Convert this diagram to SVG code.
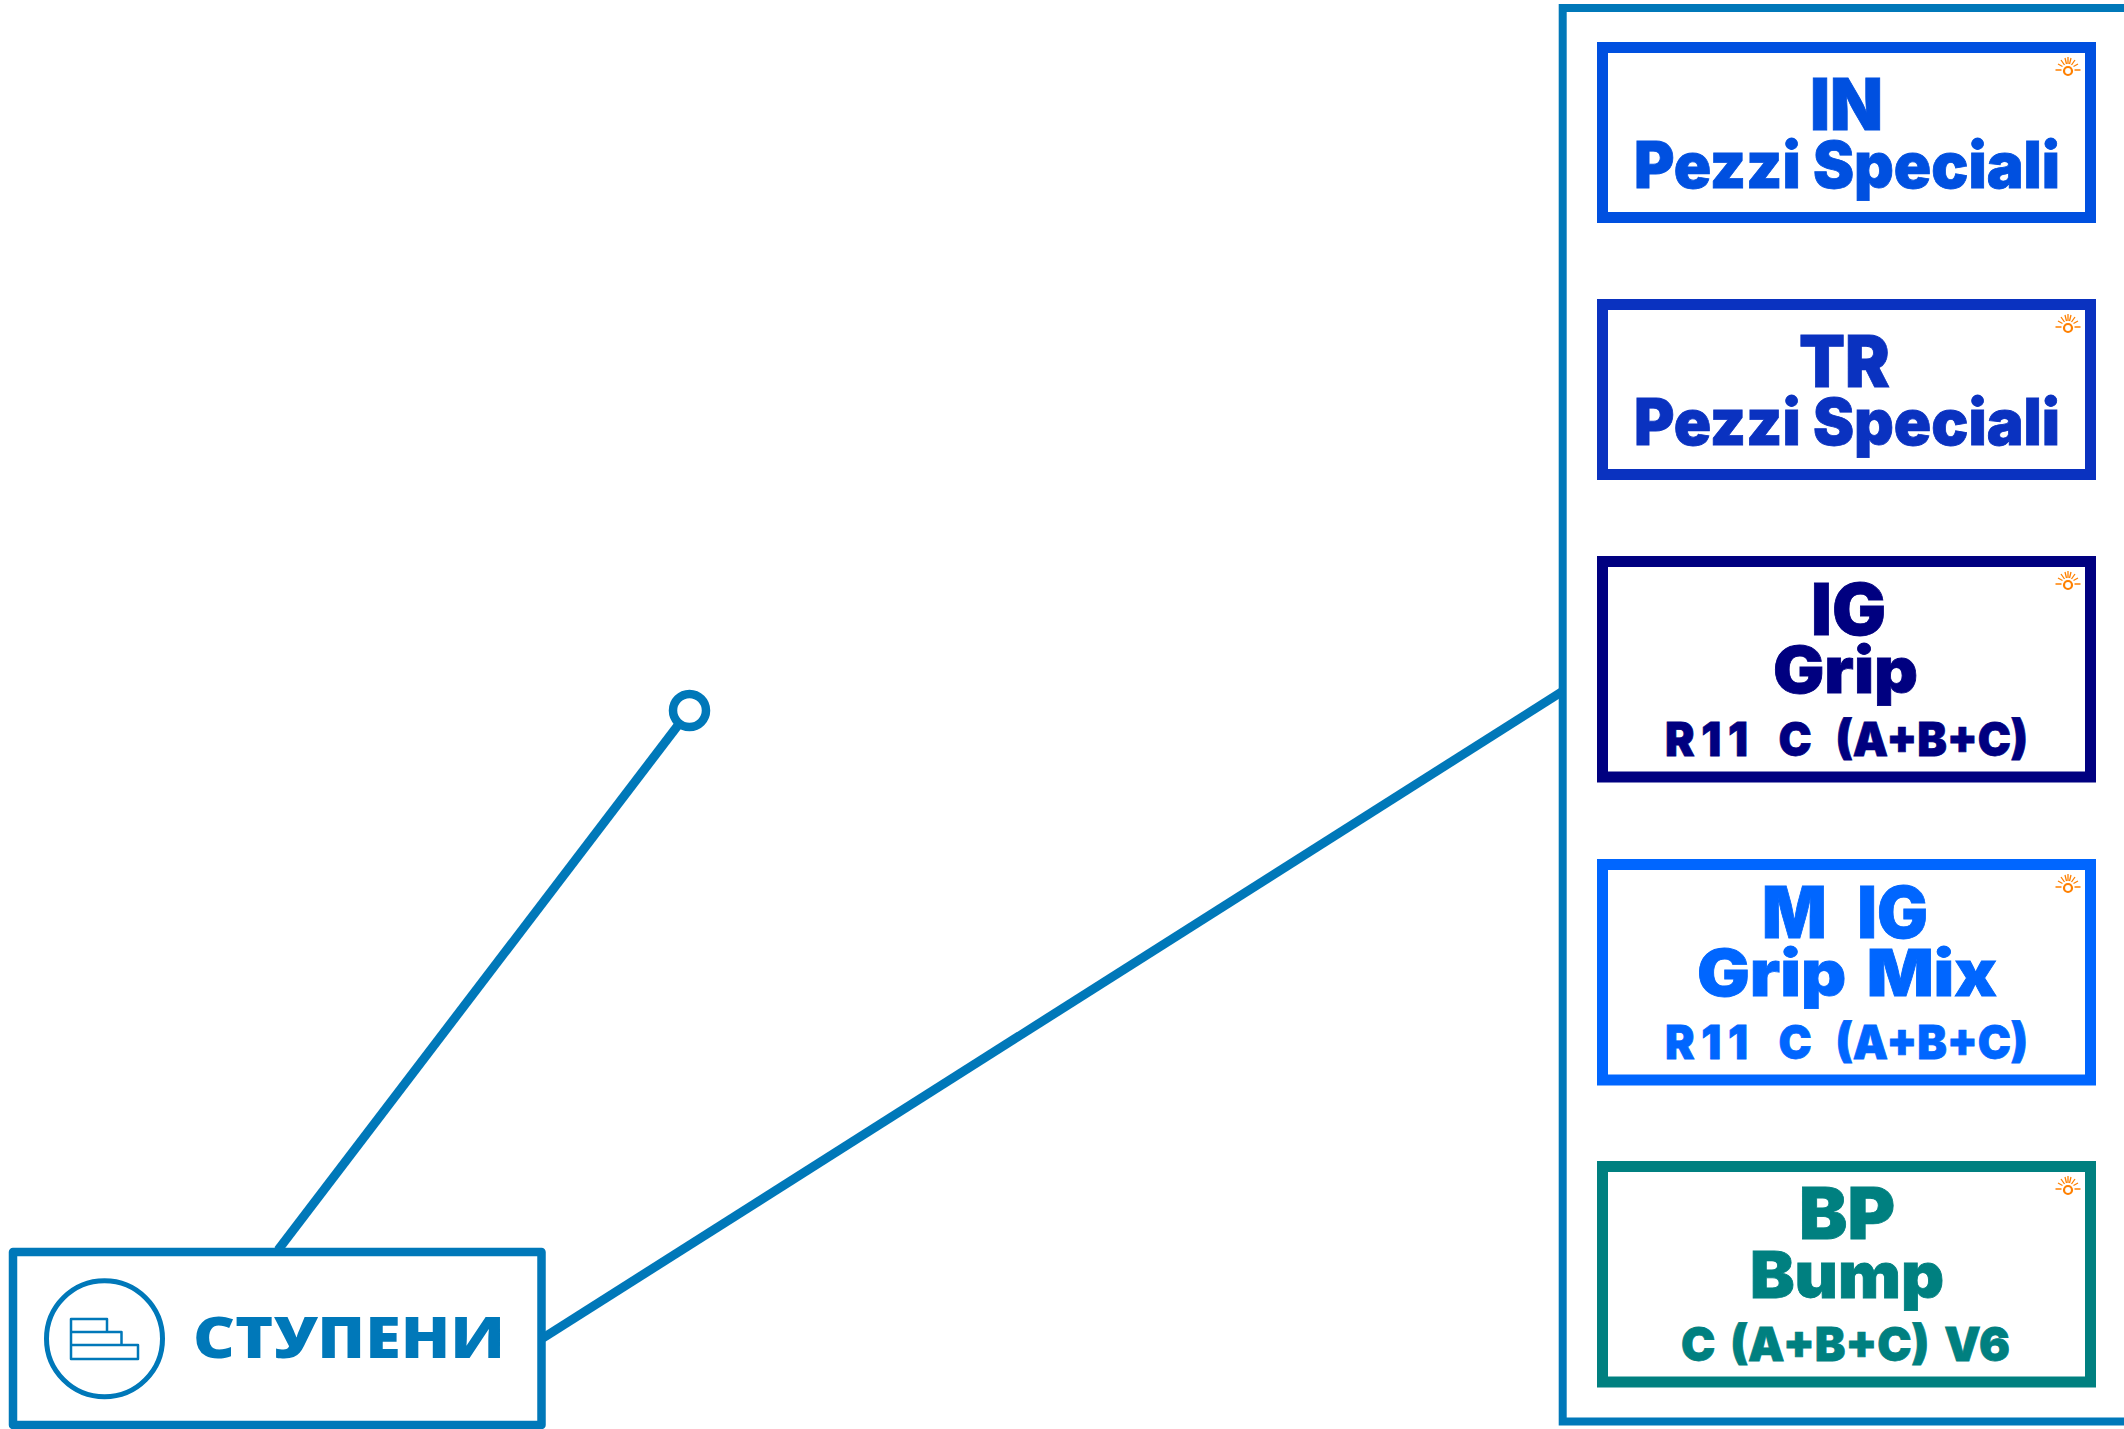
<svg xmlns="http://www.w3.org/2000/svg" xmlns:xlink="http://www.w3.org/1999/xlink" width="2124" height="1429" viewBox="0 0 2124 1429">
<style>
.frame{fill:#fff;stroke-width:11}
.t{font-family:"Inter","Liberation Sans",sans-serif;font-weight:900;stroke-width:.8}
.h1{font-size:71px}
.h2{font-size:64px}
.h3{font-size:47px}
.link{fill:none;stroke:#0078b9;stroke-width:9}
.in{fill:#0050e0;stroke:#0050e0}
.tr{fill:#0a32c0;stroke:#0a32c0}
.ig{fill:#000080;stroke:#000080}
.mig{fill:#0066ff;stroke:#0066ff}
.bp{fill:#008080;stroke:#008080}
</style>
<defs>
<g id="sun" fill="none" stroke="#ff8000">
<circle cx="0" cy="1" r="4" stroke-width="2.200"/>
<path stroke-width="1.300" d="M-12.500 0H-6.500M6.500 0H12.500M-10 -6L-5.500 -3.500M10 -6L5.500 -3.500M-7 -10L-3.500 -5M7 -10L3.500 -5M-3 -12L-1.500 -6M3 -12L1.500 -6M0 -13V-6"/>
</g>
</defs>
<rect width="2124" height="1429" fill="#fff"/>
<g id="connectors">
<path class="link" d="M278 1250L679 724"/>
<path class="link" d="M543 1338L1563 691"/>
</g>
<g id="anchor"><circle cx="689.500" cy="710.500" r="16.500" fill="#fff" stroke="#0078b9" stroke-width="8.500"/></g>
<g id="container"><path fill="none" stroke="#0078b9" stroke-width="8" d="M2130 8H1562.700V1421.500H2130"/></g>
<g id="stupeni">
<rect x="13" y="1252" width="528.500" height="173" fill="#fff" stroke="#0078b9" stroke-width="8.500" stroke-linejoin="round"/>
<circle cx="104.500" cy="1338.700" r="58" fill="none" stroke="#0078b9" stroke-width="5"/>
<path fill="none" stroke="#0078b9" stroke-width="2.500" stroke-linejoin="round" d="M71 1319H107V1332H71ZM71 1332H121.500V1345H71ZM71 1345H138V1359H71Z"/>
<text x="193" y="1358" font-family="Open Sans,sans-serif" font-weight="800" font-size="57" fill="#0078b9" textLength="312" lengthAdjust="spacingAndGlyphs">СТУПЕНИ</text>
</g>
<g id="node-in">
<rect class="frame" x="1602.500" y="47.500" width="488" height="170" stroke="#0050e0"/>
<use xlink:href="#sun" href="#sun" x="2068" y="70"/>
<text class="t h1 in" x="1810" y="130" textLength="73" lengthAdjust="spacingAndGlyphs">IN</text>
<text class="t h2 in" x="1634" y="188" textLength="426" lengthAdjust="spacingAndGlyphs">Pezzi Speciali</text>
</g>
<g id="node-tr">
<rect class="frame" x="1602.500" y="304.500" width="488" height="170" stroke="#0a32c0"/>
<use xlink:href="#sun" href="#sun" x="2068" y="327"/>
<text class="t h1 tr" x="1799" y="387" textLength="91" lengthAdjust="spacingAndGlyphs">TR</text>
<text class="t h2 tr" x="1634" y="445" textLength="426" lengthAdjust="spacingAndGlyphs">Pezzi Speciali</text>
</g>
<g id="node-ig">
<rect class="frame" x="1602.500" y="561.500" width="488" height="215.500" stroke="#000080"/>
<use xlink:href="#sun" href="#sun" x="2068" y="584"/>
<text class="t h1 ig" x="1811" y="635" textLength="75" lengthAdjust="spacingAndGlyphs">IG</text>
<text class="t h2 ig" x="1773" y="693" textLength="145" lengthAdjust="spacingAndGlyphs">Grip</text>
<text class="t h3 ig" x="1665" y="756" textLength="363" lengthAdjust="spacingAndGlyphs" word-spacing="16"><tspan letter-spacing="7">R11</tspan> C (A+B+C)</text>
</g>
<g id="node-mig">
<rect class="frame" x="1602.500" y="864.500" width="488" height="215.500" stroke="#0066ff"/>
<use xlink:href="#sun" href="#sun" x="2068" y="887"/>
<text class="t h1 mig" x="1762" y="938" textLength="166" lengthAdjust="spacingAndGlyphs" word-spacing="18">M IG</text>
<text class="t h2 mig" x="1697" y="996" textLength="300" lengthAdjust="spacingAndGlyphs" word-spacing="6">Grip Mix</text>
<text class="t h3 mig" x="1665" y="1059" textLength="363" lengthAdjust="spacingAndGlyphs" word-spacing="16"><tspan letter-spacing="7">R11</tspan> C (A+B+C)</text>
</g>
<g id="node-bp">
<rect class="frame" x="1602.500" y="1166.500" width="488" height="215.500" stroke="#008080"/>
<use xlink:href="#sun" href="#sun" x="2068" y="1189"/>
<text class="t h1 bp" x="1799" y="1239" textLength="96" lengthAdjust="spacingAndGlyphs">BP</text>
<text class="t h2 bp" x="1750" y="1298" textLength="194" lengthAdjust="spacingAndGlyphs">Bump</text>
<text class="t h3 bp" x="1681" y="1361" textLength="329" lengthAdjust="spacingAndGlyphs" word-spacing="6">C (A+B+C) V6</text>
</g>
</svg>
